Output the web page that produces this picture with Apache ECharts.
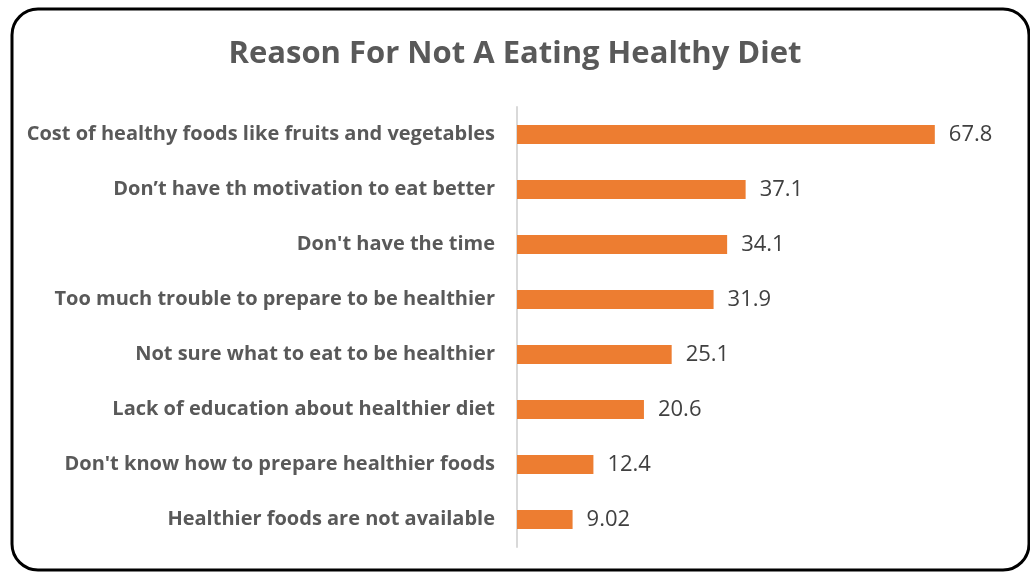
<!DOCTYPE html>
<html>
<head>
<meta charset="utf-8">
<script src="https://cdn.jsdelivr.net/npm/echarts@6/dist/echarts.min.js"></script>
<style>
  html, body { margin: 0; padding: 0; background: #fff; }
  #chart { width: 1030px; height: 573px; }
</style>
</head>
<body>
<div id="chart"></div>
<script>
// Survey reasons, listed top to bottom as drawn
const reasons = [
  'Cost of healthy foods like fruits and vegetables',
  'Don\u2019t have th motivation to eat better',
  "Don't have the time",
  'Too much trouble to prepare to be healthier',
  'Not sure what to eat to be healthier',
  'Lack of education about healthier diet',
  "Don't know how to prepare healthier foods",
  'Healthier foods are not available'
];
const shares = [67.8, 37.1, 34.1, 31.9, 25.1, 20.6, 12.4, 9.02];

const FONT = '"Open Sans", Lato, sans-serif';

const chart = echarts.init(document.getElementById('chart'), null, { renderer: 'canvas' });
chart.setOption({
  animation: false,
  backgroundColor: '#ffffff',
  title: {
    text: 'Reason For Not A Eating Healthy Diet',
    left: 'center',
    top: 34,
    textStyle: { fontFamily: FONT, fontSize: 31, fontWeight: 'bold', color: '#595959' }
  },
  graphic: [{
    type: 'rect',
    shape: { x: 12, y: 9, width: 1017, height: 561, r: 26 },
    style: { fill: 'none', stroke: '#000000', lineWidth: 3 },
    silent: true
  }],
  grid: { left: 517, top: 107, width: 493, height: 440, containLabel: false },
  xAxis: {
    type: 'value',
    min: 0,
    max: 80,
    show: false
  },
  yAxis: {
    type: 'category',
    inverse: true,
    data: reasons,
    axisLine: { show: true, lineStyle: { color: '#d9d9d9', width: 2 } },
    axisTick: { show: false },
    axisLabel: {
      margin: 22,
      fontFamily: FONT,
      fontSize: 20,
      fontWeight: 'bold',
      color: '#595959'
    }
  },
  series: [{
    type: 'bar',
    data: shares,
    barWidth: 19,
    itemStyle: { color: '#ED7D31' },
    label: {
      show: true,
      position: 'right',
      distance: 14,
      fontFamily: FONT,
      fontSize: 22,
      color: '#404040'
    }
  }]
});
</script>
</body>
</html>
